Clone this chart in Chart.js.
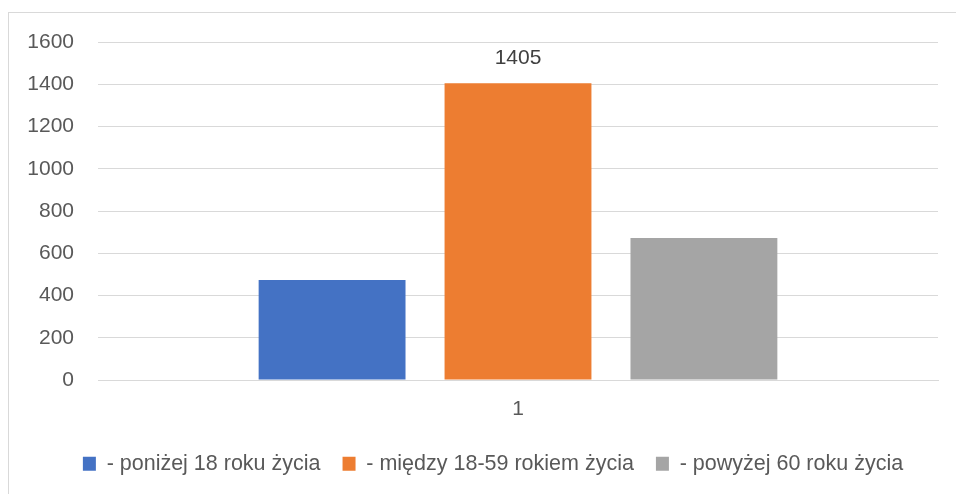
<!DOCTYPE html>
<html>
<head>
<meta charset="utf-8">
<script src="https://cdn.jsdelivr.net/npm/chart.js@4/dist/chart.umd.min.js"></script>
<style>
  html, body { margin: 0; padding: 0; background: #fff; overflow: hidden; }
  #wrap { position: absolute; left: 0; top: 0; width: 956px; height: 494px; }
  #frame { position: absolute; left: 8px; top: 12px; width: 1000px; height: 600px; border: 1px solid #d9d9d9; box-sizing: border-box; }
  canvas { position: absolute; left: 0; top: 0; }
</style>
</head>
<body>
<div id="wrap">
  <div id="frame"></div>
  <canvas id="c" width="956" height="494"></canvas>
</div>
<script>
const categories = ['1'];
const seriesNames = ['- poniżej 18 roku życia', '- między 18-59 rokiem życia', '- powyżej 60 roku życia'];
const under18 = [473];
const between18and59 = [1405];
const over60 = [672];
const seriesColors = ['#4472C4', '#ED7D31', '#A5A5A5'];
const yMin = 0, yMax = 1600, yStep = 200;
const labelledSeries = [1];

const FONT = 'Liberation Sans, Arial, sans-serif';
const FS = 21;
const LFS = 21.5;
const TXT = '#595959';

const valueLabels = {
  id: 'valueLabels',
  afterInit(chart) {
    const lg = chart.legend;
    if (lg) {
      const orig = lg.fit.bind(lg);
      lg.fit = function () { orig(); this.height = 63; };
    }
  },
  afterLayout(chart) {
    if (chart.legend) { chart.legend.left = 48; }
  },
  afterDatasetsDraw(chart) {
    const ctx = chart.ctx;
    ctx.save();
    ctx.font = FS + 'px ' + FONT;
    ctx.fillStyle = '#404040';
    ctx.textAlign = 'center';
    ctx.textBaseline = 'middle';
    labelledSeries.forEach(di => {
      const meta = chart.getDatasetMeta(di);
      meta.data.forEach((el, i) => {
        const v = chart.data.datasets[di].data[i];
        ctx.fillText(String(v), el.x, el.y - 25);
      });
    });
    ctx.restore();
  }
};

new Chart(document.getElementById('c'), {
  type: 'bar',
  data: {
    labels: categories,
    datasets: [
      { label: seriesNames[0], data: under18, backgroundColor: seriesColors[0] },
      { label: seriesNames[1], data: between18and59, backgroundColor: seriesColors[1] },
      { label: seriesNames[2], data: over60, backgroundColor: seriesColors[2] }
    ]
  },
  options: {
    responsive: false,
    animation: false,
    layout: { padding: { left: 0, right: 18, top: 42, bottom: 0 } },
    datasets: { bar: { categoryPercentage: 0.664, barPercentage: 0.79 } },
    scales: {
      x: {
        afterFit(scale) { scale.height = 51; },
        grid: { display: false, drawTicks: false },
        border: { display: true, color: '#d9d9d9', width: 1 },
        ticks: { color: TXT, font: { family: FONT, size: FS }, padding: 17 }
      },
      y: {
        min: yMin, max: yMax,
        afterFit(scale) { scale.width = 98; },
        grid: { color: '#d9d9d9', lineWidth: 1, drawTicks: false },
        border: { display: false },
        ticks: { stepSize: yStep, color: TXT, font: { family: FONT, size: FS }, padding: 24,
                 callback: v => String(v) }
      }
    },
    plugins: {
      legend: {
        position: 'bottom',
        labels: {
          color: TXT,
          font: { family: FONT, size: LFS },
          boxWidth: 13, boxHeight: 14,
          padding: 22
        }
      },
      tooltip: { enabled: false }
    }
  },
  plugins: [valueLabels]
});
</script>
</body>
</html>
